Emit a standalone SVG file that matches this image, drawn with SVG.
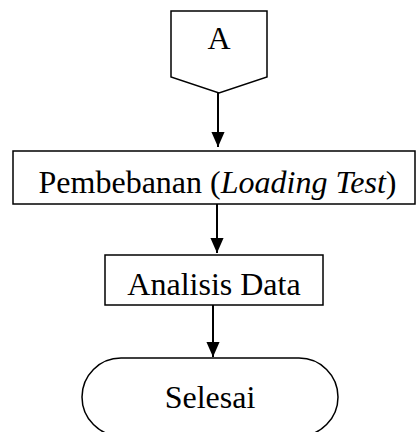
<svg xmlns="http://www.w3.org/2000/svg" width="419" height="432" viewBox="0 0 419 432">
<style>
.shape{fill:#fff;stroke:#000;stroke-width:1.5}
.lbl{font-family:"Liberation Serif","Times New Roman",serif;font-size:32px;fill:#000;text-anchor:middle}
.conn{stroke:#000;stroke-width:2;fill:none}
</style>
<defs>
<marker id="ah" markerUnits="userSpaceOnUse" markerWidth="15" markerHeight="15" refX="16" refY="7" orient="auto" viewBox="0 0 16 14">
<path d="M0,0 L16,7 L0,14 Z" fill="#000"/>
</marker>
<clipPath id="clip1"><rect x="13" y="151" width="402" height="49"/></clipPath>
</defs>
<rect width="419" height="432" fill="#fff"/>
<g id="connectors">
<line class="conn" x1="218" y1="93" x2="218" y2="147" marker-end="url(#ah)"/>
<line class="conn" x1="217" y1="204" x2="217" y2="253" marker-end="url(#ah)"/>
<line class="conn" x1="213" y1="305" x2="213" y2="357" marker-end="url(#ah)"/>
</g>
<g id="nodeA">
<polygon class="shape" points="171,11 267,11 267,77 219,93 171,77"/>
<text class="lbl" x="219" y="49">A</text>
</g>
<g id="nodeLoading">
<rect class="shape" x="13" y="151" width="402" height="53"/>
<text class="lbl" x="217.5" y="193" clip-path="url(#clip1)">Pembebanan (<tspan font-style="italic">Loading Test</tspan>)</text>
</g>
<g id="nodeAnalisis">
<rect class="shape" x="105" y="255" width="218" height="50"/>
<text class="lbl" x="214" y="295">Analisis Data</text>
</g>
<g id="nodeSelesai">
<rect class="shape" x="82" y="358" width="256" height="78" rx="39" ry="39"/>
<text class="lbl" x="210" y="408">Selesai</text>
</g>
</svg>
